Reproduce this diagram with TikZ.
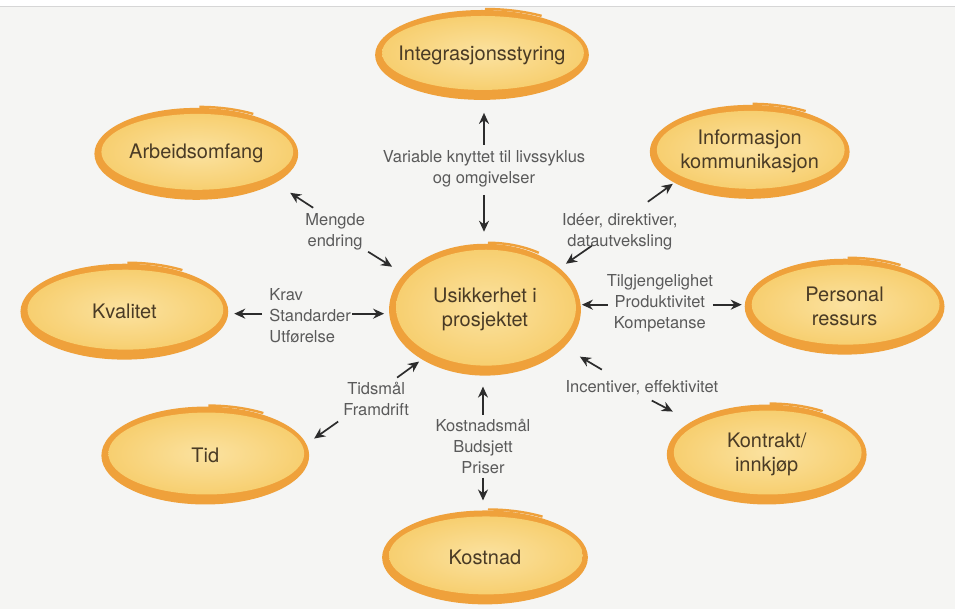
\documentclass[tikz,border=0pt]{standalone}
\usepackage{fontspec}
\setmainfont{TeX Gyre Heros}
\usetikzlibrary{arrows.meta}

\definecolor{paper}{HTML}{F5F5F3}
\definecolor{rule}{HTML}{D6D6D6}
\definecolor{ringor}{HTML}{EFA13B}
\definecolor{fillin}{HTML}{FBE2A0}
\definecolor{fillout}{HTML}{F7CF70}
\definecolor{inktext}{HTML}{4A3B25}
\definecolor{labink}{HTML}{5A5A5A}
\definecolor{arrowink}{HTML}{2C2C2C}

\tikzset{
  nodetext/.style={font=\fontsize{20}{24}\selectfont, text=inktext, align=center, inner sep=0pt},
  labtext/.style={font=\fontsize{16.5}{21}\selectfont, text=labink, align=center, inner sep=0pt},
  arr/.style={draw=arrowink, line width=1.7pt, -{Stealth[length=11pt,width=10pt]}},
}

% brush-stroke ellipse: orange ring, yellow core, small overlap at the top
% #1 name, #2 cx, #3 cy, #4 rx, #5 ry, #6 text
\newcommand\ringnode[6]{%
  \fill[ringor] (#2,#3) ellipse [x radius=#4, y radius=#5];
  \shade[inner color=fillin, outer color=fillout]
    (#2+1,#3-2) ellipse [x radius=#4-6, y radius=#5-8];
  \draw[ringor, line width=2.4pt]
    (#2+3,#3-#5-1) arc [start angle=-90, end angle=-58, x radius=#4, y radius=#5+0.5];
  \node[nodetext] (#1) at (#2,#3) {#6};
}

\begin{document}
\begin{tikzpicture}[x=1pt, y=-1pt]
  % page
  \fill[paper] (0,0) rectangle (955,610);
  \fill[white] (0,0) rectangle (955,7);
  \draw[rule, line width=1pt] (0,7) -- (955,7);
  \useasboundingbox (0,0) rectangle (955,610);

  % bubbles
  \ringnode{integ}{482}{55}{107}{45}{Integrasjonsstyring}
  \ringnode{arbeid}{196}{154}{102}{46}{Arbeidsomfang}
  \ringnode{info}{750}{152}{100}{47}{Informasjon\\kommunikasjon}
  \ringnode{kval}{124}{312}{104}{48}{Kvalitet}
  \ringnode{usikk}{485}{310}{96}{66}{Usikkerhet i\\prosjektet}
  \ringnode{pers}{845}{307}{100}{48}{Personal\\ressurs}
  \ringnode{tid}{205}{456}{104}{49}{Tid}
  \ringnode{kontr}{767}{455}{100}{50}{Kontrakt/\\innkjøp}
  \ringnode{kost}{485}{558}{103}{47}{Kostnad}

  % labels
  \node[labtext] (lvar)  at (484,169) {Variable knyttet til livssyklus\\og omgivelser};
  \node[labtext] (lmeng) at (335,232) {Mengde\\endring};
  \node[labtext] (lide)  at (620,232) {Idéer, direktiver,\\datautveksling};
  \node[labtext, align=left, anchor=west] (lkrav) at (269,316) {Krav\\Standarder\\Utførelse};
  \node[labtext] (ltilg) at (660,304) {Tilgjengelighet\\Produktivitet\\Kompetanse};
  \node[labtext] (ltids) at (376,399) {Tidsmål\\Framdrift};
  \node[labtext] (lkost) at (483,447) {Kostnadsmål\\Budsjett\\Priser};
  \node[labtext] (linc)  at (642,388) {Incentiver, effektivitet};

  % arrow end points
  \coordinate (a1) at (484,145); \coordinate (b1) at (484,113);
  \coordinate (a2) at (484,195); \coordinate (b2) at (484,232);
  \coordinate (a3) at (313,208); \coordinate (b3) at (290,193);
  \coordinate (a4) at (368,252); \coordinate (b4) at (392,267);
  \coordinate (a5) at (648,202); \coordinate (b5) at (673,184);
  \coordinate (a6) at (592,246); \coordinate (b6) at (566,264);
  \coordinate (a7) at (262,314); \coordinate (b7) at (234,314);
  \coordinate (a8) at (352,314); \coordinate (b8) at (384,314);
  \coordinate (a9) at (608,305); \coordinate (b9) at (582,305);
  \coordinate (a10) at (713,305); \coordinate (b10) at (742,305);
  \coordinate (a11) at (397,378); \coordinate (b11) at (419,362);
  \coordinate (a12) at (338,422); \coordinate (b12) at (314,439);
  \coordinate (a13) at (483,415); \coordinate (b13) at (483,387);
  \coordinate (a14) at (483,478); \coordinate (b14) at (483,501);
  \coordinate (a15) at (602,370); \coordinate (b15) at (580,357);
  \coordinate (a16) at (652,401); \coordinate (b16) at (673,412);

  % arrows
  \foreach \i in {1,...,16} { \draw[arr] (a\i) -- (b\i); }
\end{tikzpicture}
\end{document}
